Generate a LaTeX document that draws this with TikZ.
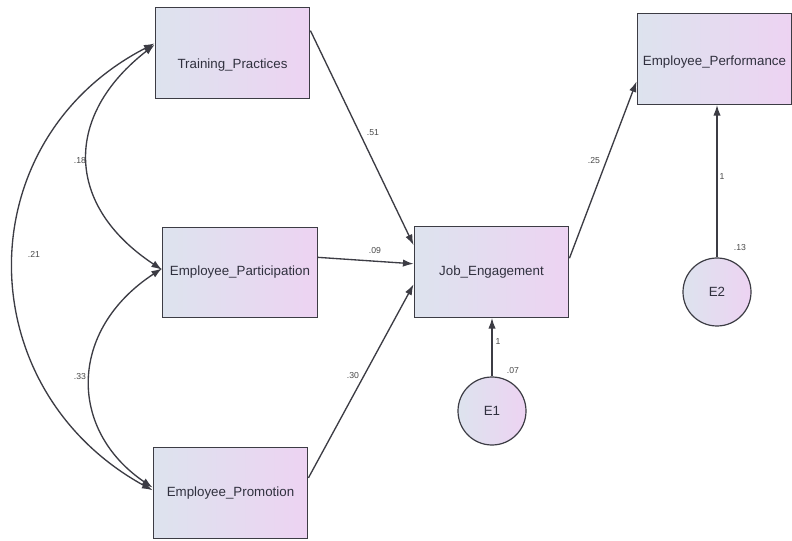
\documentclass[tikz,border=0pt]{standalone}
\usepackage{fontspec}
\setmainfont{Liberation Sans}
\usetikzlibrary{arrows.meta}
\definecolor{boxL}{HTML}{DDE3EE}
\definecolor{boxR}{HTML}{EDD3F2}
\definecolor{edgec}{HTML}{3C3C44}
\definecolor{txtc}{HTML}{30303E}
\definecolor{lblc}{HTML}{4A4A4A}
\begin{document}
\begin{tikzpicture}[x=0.75pt,y=-0.75pt,
  var/.style={draw=edgec, line width=0.9pt, left color=boxL, right color=boxR,
    minimum width=116pt, minimum height=68pt, inner sep=0pt,
    font=\fontsize{10}{12}\selectfont, text=txtc},
  err/.style={circle, draw=edgec, line width=0.9pt, left color=boxL, right color=boxR,
    minimum size=51pt, inner sep=0pt, font=\fontsize{10}{12}\selectfont, text=txtc},
  reg/.style={draw=edgec, line width=1pt, -{Latex[length=8pt,width=5.5pt]}},
  cov/.style={draw=edgec, line width=1pt, {Latex[length=8pt,width=5.5pt]}-{Latex[length=8pt,width=5.5pt]}},
  lab/.style={font=\fontsize{6.5}{8}\selectfont, text=lblc, inner sep=0pt}
]
\useasboundingbox (0,0) rectangle (792,541);
\fill[white] (0,0) rectangle (792,541);

\node[var] (tp)  at (232.5,53)  {\raisebox{-9pt}[\height][\depth]{Training\_Practices}};
\node[var] (ep)  at (240,272.5) {Employee\_Participation};
\node[var] (epr) at (230.5,493) {Employee\_Promotion};
\node[var] (je)  at (491.5,272) {Job\_Engagement};
\node[var] (pf)  at (714.5,59)  {\raisebox{-2pt}[\height][\depth]{Employee\_Performance}};
\node[err] (e1)  at (492,411) {E1};
\node[err] (e2)  at (717,292) {E2};

\draw[reg] (tp.16.5) -- (je.161.5);
\draw[reg] (ep.11.4) -- (je.174);
\draw[reg] (epr.11) -- (je.189.5);
\draw[reg] (je.10) -- (pf.196.7);
\draw[reg] (e1.north) -- (e1.north |- je.south);
\draw[reg] (e2.north) -- (e2.north |- pf.south);

\draw[cov] (tp.174) .. controls (64,115) and (64,205) .. (ep.178);
\draw[cov] (ep.177) .. controls (68,330) and (68,430) .. (epr.176);
\draw[cov] (tp.173) .. controls (-33,140) and (-33,388) .. (epr.178);

\node[lab] (l18) at (80,161) {.18};
\node[lab] (l21) at (34,254) {.21};
\node[lab] (l33) at (80,377) {.33};
\node[lab] (l51) at (373,133) {.51};
\node[lab] (l09) at (375,251) {.09};
\node[lab] (l30) at (353,376) {.30};
\node[lab] (l25) at (594,161) {.25};
\node[lab] (l1a) at (498,342) {1};
\node[lab] (l07) at (513,371) {.07};
\node[lab] (l1b) at (722,177) {1};
\node[lab] (l13) at (740,248) {.13};
\end{tikzpicture}
\end{document}
